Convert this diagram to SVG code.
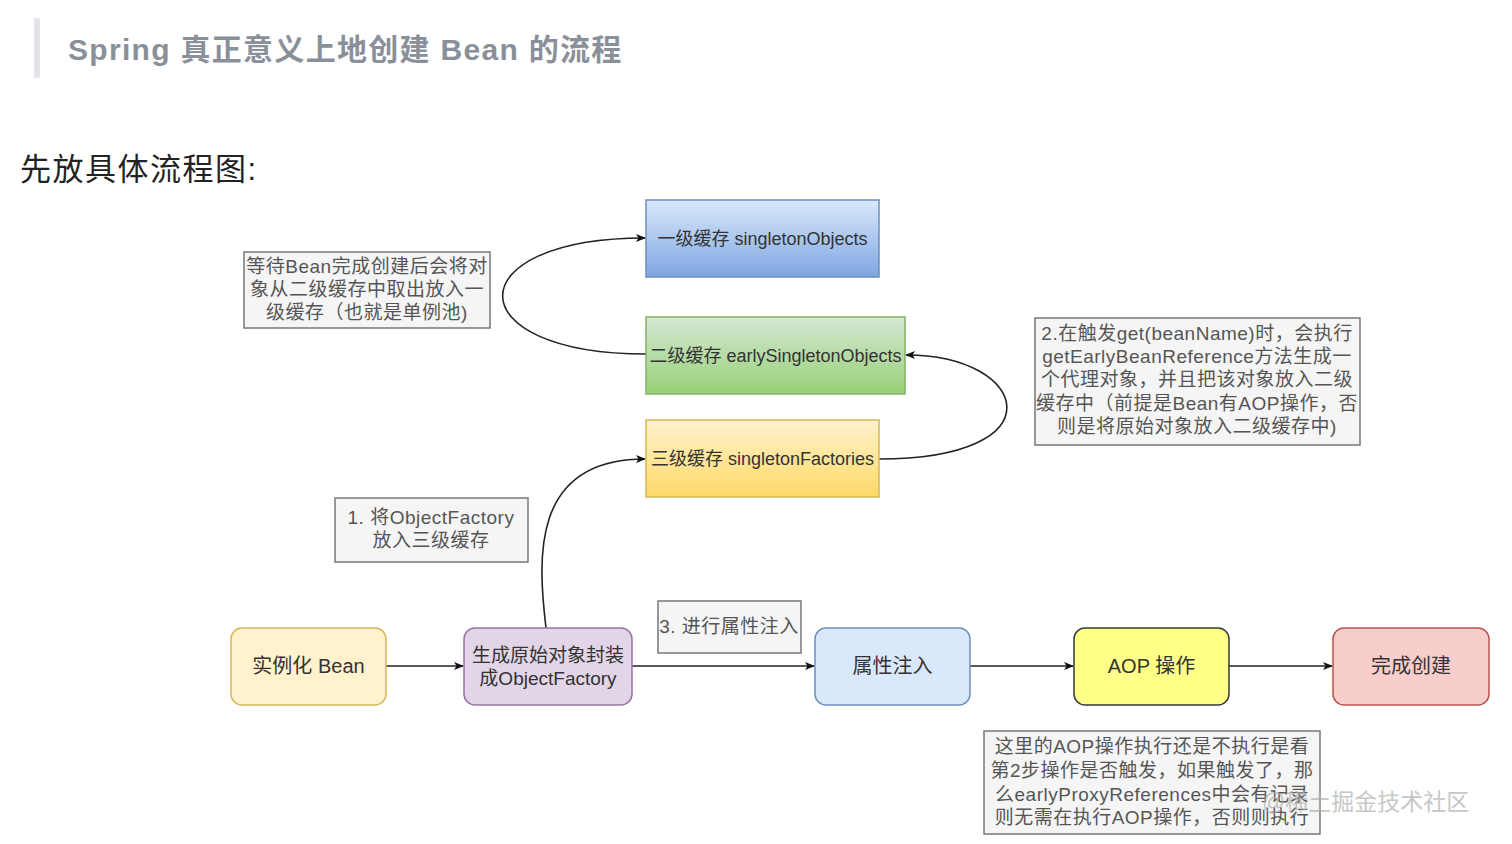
<svg xmlns="http://www.w3.org/2000/svg" width="1512" height="844" viewBox="0 0 1512 844">
<defs>
<linearGradient id="gBlue" x1="0" y1="0" x2="0" y2="1"><stop offset="0" stop-color="#dae8fc"/><stop offset="1" stop-color="#7ea6e0"/></linearGradient>
<linearGradient id="gGreen" x1="0" y1="0" x2="0" y2="1"><stop offset="0" stop-color="#d5e8d4"/><stop offset="1" stop-color="#97d077"/></linearGradient>
<linearGradient id="gYellow" x1="0" y1="0" x2="0" y2="1"><stop offset="0" stop-color="#fff2cc"/><stop offset="1" stop-color="#ffd966"/></linearGradient>
<marker id="arr" viewBox="0 0 10 10" refX="9" refY="5" markerWidth="10" markerHeight="10" markerUnits="userSpaceOnUse" orient="auto">
<path d="M0,1 L10,5 L0,9 L2.5,5 Z" fill="#111"/>
</marker>
<style>
text{font-family:"Liberation Sans","Noto Sans CJK SC",sans-serif;}
.t{font-size:18px;fill:#333;}
.n{font-size:19px;fill:#555;text-anchor:middle;letter-spacing:0.5px;}
.f{font-size:20px;fill:#333;text-anchor:middle;}
.note{fill:#f5f5f5;stroke:#777;stroke-width:1.5;}
.edge{fill:none;stroke:#222;stroke-width:1.6;marker-end:url(#arr);}
</style>
</defs>
<rect width="1512" height="844" fill="#fff"/>
<g id="header">
<rect x="34" y="18" width="6" height="60" fill="#e3e4e8"/>
<text x="68" y="60" style="font-size:30px;font-weight:bold;fill:#8a9099;letter-spacing:1.3px;">Spring 真正意义上地创建 Bean 的流程</text>
<text x="20" y="180" style="font-size:31px;fill:#222;letter-spacing:1.5px;">先放具体流程图:</text>
</g>
<g id="connectors">
<path class="edge" d="M646,354 C455,354 455,238 645,238"/>
<path class="edge" d="M879,459 C1060,459 1030,355 906,355"/>
<path class="edge" d="M546,628 C538,560 530,459 645,459"/>
<line class="edge" x1="386" y1="666" x2="463" y2="666"/>
<line class="edge" x1="632" y1="666" x2="814" y2="666"/>
<line class="edge" x1="970" y1="666" x2="1073" y2="666"/>
<line class="edge" x1="1229" y1="666" x2="1332" y2="666"/>
</g>
<g id="cache1">
<rect x="646" y="200" width="233" height="77" fill="url(#gBlue)" stroke="#6c8ebf" stroke-width="1.5"/>
<text class="t" x="762.5" y="245" text-anchor="middle">一级缓存 singletonObjects</text>
</g>
<g id="cache2">
<rect x="646" y="317" width="259" height="77" fill="url(#gGreen)" stroke="#82b366" stroke-width="1.5"/>
<text class="t" x="775.5" y="362" text-anchor="middle">二级缓存 earlySingletonObjects</text>
</g>
<g id="cache3">
<rect x="646" y="420" width="233" height="77" fill="url(#gYellow)" stroke="#d6b656" stroke-width="1.5"/>
<text class="t" x="762.5" y="465" text-anchor="middle">三级缓存 singletonFactories</text>
</g>
<g id="note-left">
<rect class="note" x="244" y="252" width="246" height="76"/>
<text class="n" x="367" y="273">等待Bean完成创建后会将对</text>
<text class="n" x="367" y="296">象从二级缓存中取出放入一</text>
<text class="n" x="367" y="319">级缓存（也就是单例池)</text>
</g>
<g id="note-right">
<rect class="note" x="1035" y="318" width="325" height="127"/>
<text class="n" x="1197" y="340">2.在触发get(beanName)时，会执行</text>
<text class="n" x="1197" y="363">getEarlyBeanReference方法生成一</text>
<text class="n" x="1197" y="386">个代理对象，并且把该对象放入二级</text>
<text class="n" x="1197" y="410">缓存中（前提是Bean有AOP操作，否</text>
<text class="n" x="1197" y="433">则是将原始对象放入二级缓存中)</text>
</g>
<g id="note-step1">
<rect class="note" x="335" y="498" width="193" height="64"/>
<text class="n" x="431" y="524">1. 将ObjectFactory</text>
<text class="n" x="431" y="547">放入三级缓存</text>
</g>
<g id="note-step3">
<rect class="note" x="658" y="601" width="143" height="52"/>
<text class="n" x="729" y="633">3. 进行属性注入</text>
</g>
<g id="note-bottom">
<rect class="note" x="984" y="731" width="336" height="103"/>
<text class="n" x="1152" y="753">这里的AOP操作执行还是不执行是看</text>
<text class="n" x="1152" y="777">第2步操作是否触发，如果触发了，那</text>
<text class="n" x="1152" y="801">么earlyProxyReferences中会有记录</text>
<text class="n" x="1152" y="824">则无需在执行AOP操作，否则则执行</text>
</g>
<g id="instantiate">
<rect x="231" y="628" width="155" height="77" rx="11" fill="#fff2cc" stroke="#d6b656" stroke-width="1.5"/>
<text class="f" x="308.5" y="673">实例化 Bean</text>
</g>
<g id="objectfactory">
<rect x="464" y="628" width="168" height="77" rx="11" fill="#e1d5e7" stroke="#9673a6" stroke-width="1.5"/>
<text class="f" x="548" y="662" style="font-size:19px;">生成原始对象封装</text>
<text class="f" x="548" y="685" style="font-size:19px;">成ObjectFactory</text>
</g>
<g id="inject">
<rect x="815" y="628" width="155" height="77" rx="11" fill="#dae8fc" stroke="#6c8ebf" stroke-width="1.5"/>
<text class="f" x="892.5" y="673">属性注入</text>
</g>
<g id="aop">
<rect x="1074" y="628" width="155" height="77" rx="11" fill="#ffff88" stroke="#36393d" stroke-width="1.5"/>
<text class="f" x="1151.5" y="673">AOP 操作</text>
</g>
<g id="done">
<rect x="1333" y="628" width="156" height="77" rx="11" fill="#f8cecc" stroke="#b85450" stroke-width="1.5"/>
<text class="f" x="1411" y="673">完成创建</text>
</g>
<g id="watermark">
<text x="1262" y="810" style="font-size:23px;fill:#b0b0b0;opacity:0.7;">@稀土掘金技术社区</text>
</g>
</svg>
